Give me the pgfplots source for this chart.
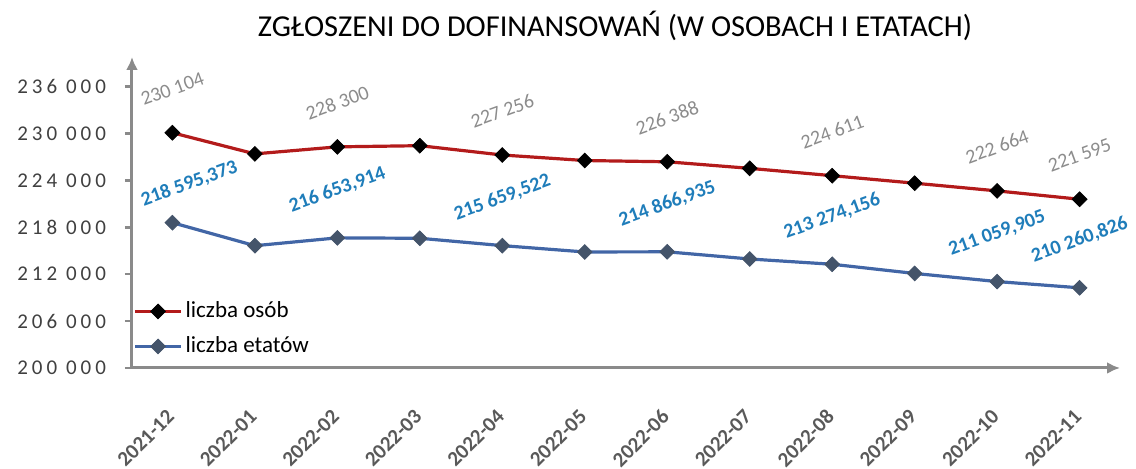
\documentclass[border=0pt]{standalone}
\usepackage{fontspec}
\setmainfont{Carlito}
\newfontfamily\tickfont[LetterSpace=19]{Carlito}
\usepackage{pgfplots}
\pgfplotsset{compat=1.18}
\usetikzlibrary{arrows.meta}

\definecolor{osoby}{HTML}{B31B1B}
\definecolor{etaty}{HTML}{4266A6}
\definecolor{etatymark}{HTML}{44546A}
\definecolor{lblgrey}{HTML}{8C8C8C}
\definecolor{lblblue}{HTML}{1F7DBA}
\definecolor{axisgrey}{HTML}{8A8A8A}
\definecolor{ticktext}{HTML}{404040}
\definecolor{xtext}{HTML}{595959}

\begin{document}
\begin{tikzpicture}
\begin{axis}[
    name=ax,
    width=494pt, height=155.5pt, scale only axis,
    xmin=-0.49, xmax=11.49,
    ymin=200000, ymax=239800,
    clip=false,
    axis lines=left,
    axis line style={draw=axisgrey, line width=1.5pt, -{Latex[length=6.5pt,width=6pt]}},
    xtick={0,...,11},
    xticklabels={2021-12,2022-01,2022-02,2022-03,2022-04,2022-05,2022-06,2022-07,2022-08,2022-09,2022-10,2022-11},
    xtick style={draw=none},
    xticklabel style={anchor=east, xshift=1.6pt, yshift=-16.7pt, rotate=45,
        font=\bfseries\fontsize{10.5}{12}\selectfont, text=xtext},
    ytick={200000,206000,212000,218000,224000,230000,236000},
    yticklabels={200 000,206 000,212 000,218 000,224 000,230 000,236 000},
    scaled y ticks=false,
    ytick style={draw=axisgrey, line width=1.2pt},
    tick align=outside,
    major tick length=3.5pt,
    yticklabel style={font=\tickfont\fontsize{10.5}{12}\selectfont, text=ticktext, anchor=east, xshift=-6pt},
    legend image code/.code={\draw[mark repeat=2, mark phase=2, #1] plot coordinates {(0pt,0pt) (11.5pt,0pt) (23pt,0pt)};},
    legend style={draw=none, fill=none, at={(-0.005,0.015)}, anchor=south west,
        font=\fontsize{11.5}{13}\selectfont, row sep=5pt,
        nodes={inner sep=1.5pt}},
    legend cell align=left,
]
\addplot[osoby, line width=1.6pt, mark=square*, mark size=2.6pt,
    mark options={fill=black, draw=black, rotate=45, line width=0.4pt}]
    coordinates {(0,230104) (1,227400) (2,228300) (3,228450) (4,227256) (5,226550)
                 (6,226388) (7,225550) (8,224611) (9,223650) (10,222664) (11,221595)};
\addplot[etaty, line width=1.6pt, mark=square*, mark size=2.6pt,
    mark options={fill=etatymark, draw=etatymark, rotate=45, line width=0.4pt}]
    coordinates {(0,218595.373) (1,215650) (2,216653.914) (3,216600) (4,215659.522) (5,214850)
                 (6,214866.935) (7,213950) (8,213274.156) (9,212100) (10,211059.905) (11,210260.826)};
\legend{liczba osób, liczba etatów}
% data labels
\addplot[draw=none, mark=none, forget plot, nodes near coords, point meta=explicit symbolic,
    every node near coord/.append style={anchor=center, yshift=22pt, rotate=20,
        font=\fontsize{10}{12}\selectfont, text=lblgrey}]
    coordinates {(0,230104) [{230 104}] (2,228300) [{228 300}] (4,227256) [{227 256}]
                 (6,226388) [{226 388}] (8,224611) [{224 611}] (10,222664) [{222 664}]
                 (11,221595) [{221 595}]};
\addplot[draw=none, mark=none, forget plot, nodes near coords, point meta=explicit symbolic,
    every node near coord/.append style={anchor=center, yshift=24pt, rotate=20,
        font=\bfseries\fontsize{10}{12}\selectfont, text=lblblue}]
    coordinates {(2,216653.914) [{216 653,914}]
                 (4,215659.522) [{215 659,522}] (6,214866.935) [{214 866,935}]
                 (8,213274.156) [{213 274,156}] (10,211059.905) [{211 059,905}]
                 (11,210260.826) [{210 260,826}]};
\addplot[draw=none, mark=none, forget plot, nodes near coords, point meta=explicit symbolic,
    every node near coord/.append style={anchor=center, xshift=8.5pt, yshift=19.5pt, rotate=20,
        font=\bfseries\fontsize{10}{12}\selectfont, text=lblblue}]
    coordinates {(0,218595.373) [{218 595,373}]};
\end{axis}
\node[font=\fontsize{15.2}{18}\selectfont, text=black] at ([shift={(241.5pt,171pt)}]ax.south west)
    {ZGŁOSZENI DO DOFINANSOWAŃ (W OSOBACH I ETATACH)};
\pgfresetboundingbox
\path[use as bounding box] ([shift={(-66pt,-50.5pt)}]ax.south west) rectangle ([shift={(502pt,184pt)}]ax.south west);
\end{tikzpicture}
\end{document}
